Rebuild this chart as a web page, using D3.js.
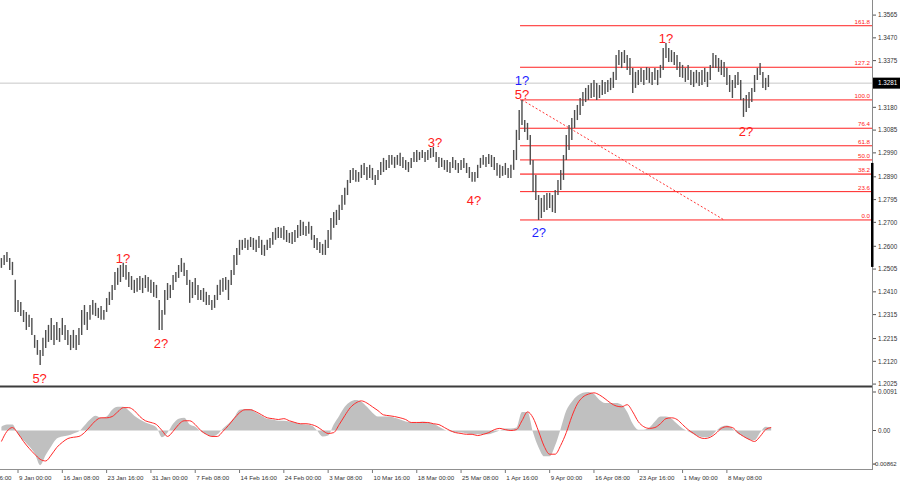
<!DOCTYPE html>
<html><head><meta charset="utf-8">
<script src="https://cdn.jsdelivr.net/npm/d3@7/dist/d3.min.js"></script>
<style>body{margin:0;background:#fff}svg{display:block}text{font-family:"Liberation Sans",Arial,sans-serif}</style>
</head><body><svg id="c" width="900" height="485"></svg>
<script>
// ---- data (8-hour bars) ----
const highs = [
1.2551,1.2564,1.2576,1.2551,1.2535,1.2460,1.2376,1.2368,1.2334,1.2326,
1.2314,1.2301,1.2230,1.2209,1.2167,1.2218,1.2251,1.2272,1.2301,1.2272,
1.2284,1.2259,1.2301,1.2272,1.2251,1.2230,1.2251,1.2230,1.2259,1.2334,
1.2355,1.2326,1.2355,1.2376,1.2364,1.2343,1.2351,1.2334,1.2384,1.2410,
1.2439,1.2493,1.2510,1.2522,1.2531,1.2522,1.2493,1.2476,1.2460,1.2468,
1.2476,1.2468,1.2480,1.2472,1.2460,1.2451,1.2439,1.2376,1.2334,1.2418,
1.2447,1.2439,1.2480,1.2493,1.2522,1.2551,1.2531,1.2501,1.2460,1.2451,
1.2468,1.2439,1.2418,1.2426,1.2410,1.2397,1.2376,1.2397,1.2439,1.2460,
1.2468,1.2472,1.2460,1.2501,1.2564,1.2593,1.2627,1.2627,1.2635,1.2627,
1.2639,1.2635,1.2627,1.2643,1.2627,1.2606,1.2627,1.2635,1.2660,1.2677,
1.2681,1.2677,1.2685,1.2668,1.2656,1.2660,1.2668,1.2689,1.2710,1.2702,
1.2685,1.2702,1.2685,1.2647,1.2635,1.2618,1.2610,1.2627,1.2668,1.2718,
1.2743,1.2752,1.2773,1.2814,1.2844,1.2877,1.2919,1.2927,1.2919,1.2910,
1.2940,1.2948,1.2931,1.2940,1.2927,1.2898,1.2919,1.2952,1.2969,1.2960,
1.2981,1.2981,1.2973,1.2981,1.2990,1.2973,1.2960,1.2952,1.2969,1.2994,
1.3002,1.2994,1.3002,1.2994,1.3002,1.3010,1.3015,1.2994,1.2973,1.2969,
1.2960,1.2960,1.2952,1.2973,1.2960,1.2948,1.2960,1.2969,1.2948,1.2931,
1.2910,1.2910,1.2940,1.2969,1.2981,1.2973,1.2985,1.2981,1.2973,1.2948,
1.2940,1.2935,1.2948,1.2927,1.2940,1.3002,1.3086,1.3169,1.3211,1.3127,
1.3115,1.3065,1.2960,1.2898,1.2814,1.2802,1.2814,1.2823,1.2823,1.2814,
1.2835,1.2877,1.2919,1.2981,1.3065,1.3106,1.3136,1.3169,1.3190,1.3219,
1.3244,1.3261,1.3273,1.3282,1.3294,1.3282,1.3273,1.3294,1.3286,1.3294,
1.3303,1.3328,1.3398,1.3419,1.3411,1.3419,1.3398,1.3386,1.3344,1.3328,
1.3336,1.3344,1.3336,1.3348,1.3344,1.3328,1.3344,1.3336,1.3357,1.3428,
1.3449,1.3428,1.3419,1.3411,1.3398,1.3369,1.3357,1.3344,1.3357,1.3336,
1.3328,1.3336,1.3328,1.3336,1.3344,1.3328,1.3357,1.3407,1.3398,1.3386,
1.3378,1.3369,1.3344,1.3315,1.3294,1.3315,1.3328,1.3294,1.3219,1.3232,
1.3244,1.3261,1.3315,1.3344,1.3365,1.3328,1.3303,1.3315];
const lows = [
1.2510,1.2522,1.2535,1.2501,1.2480,1.2326,1.2326,1.2309,1.2284,1.2251,
1.2263,1.2230,1.2176,1.2147,1.2105,1.2142,1.2176,1.2201,1.2209,1.2188,
1.2209,1.2201,1.2230,1.2209,1.2188,1.2167,1.2176,1.2167,1.2188,1.2230,
1.2272,1.2251,1.2293,1.2314,1.2309,1.2301,1.2293,1.2293,1.2326,1.2355,
1.2376,1.2418,1.2439,1.2451,1.2472,1.2460,1.2430,1.2418,1.2405,1.2410,
1.2418,1.2405,1.2426,1.2410,1.2405,1.2389,1.2384,1.2251,1.2251,1.2314,
1.2376,1.2384,1.2418,1.2451,1.2468,1.2493,1.2476,1.2439,1.2364,1.2384,
1.2397,1.2376,1.2376,1.2368,1.2355,1.2355,1.2334,1.2343,1.2376,1.2397,
1.2410,1.2418,1.2376,1.2439,1.2480,1.2522,1.2564,1.2585,1.2593,1.2585,
1.2597,1.2585,1.2576,1.2593,1.2564,1.2560,1.2585,1.2593,1.2606,1.2627,
1.2635,1.2635,1.2627,1.2618,1.2614,1.2610,1.2618,1.2635,1.2643,1.2647,
1.2643,1.2652,1.2627,1.2593,1.2585,1.2572,1.2564,1.2564,1.2593,1.2627,
1.2677,1.2689,1.2710,1.2752,1.2773,1.2814,1.2864,1.2877,1.2869,1.2869,
1.2885,1.2898,1.2877,1.2885,1.2877,1.2856,1.2877,1.2898,1.2910,1.2919,
1.2927,1.2940,1.2927,1.2940,1.2935,1.2927,1.2919,1.2910,1.2927,1.2952,
1.2952,1.2960,1.2969,1.2952,1.2960,1.2969,1.2973,1.2952,1.2927,1.2931,
1.2919,1.2910,1.2906,1.2927,1.2919,1.2906,1.2919,1.2927,1.2906,1.2885,
1.2869,1.2869,1.2885,1.2927,1.2940,1.2931,1.2944,1.2931,1.2919,1.2894,
1.2885,1.2894,1.2898,1.2885,1.2885,1.2919,1.2960,1.3044,1.3106,1.3077,
1.3044,1.2940,1.2827,1.2793,1.2710,1.2718,1.2743,1.2752,1.2760,1.2743,
1.2739,1.2814,1.2835,1.2877,1.2960,1.3002,1.3044,1.3094,1.3127,1.3148,
1.3186,1.3202,1.3211,1.3219,1.3223,1.3211,1.3219,1.3232,1.3236,1.3244,
1.3252,1.3261,1.3294,1.3357,1.3344,1.3365,1.3336,1.3315,1.3240,1.3261,
1.3273,1.3286,1.3273,1.3294,1.3282,1.3273,1.3294,1.3273,1.3303,1.3336,
1.3386,1.3369,1.3369,1.3357,1.3336,1.3307,1.3303,1.3286,1.3294,1.3273,
1.3265,1.3282,1.3269,1.3273,1.3286,1.3265,1.3294,1.3344,1.3344,1.3328,
1.3315,1.3307,1.3273,1.3244,1.3219,1.3261,1.3273,1.3211,1.3140,1.3161,
1.3177,1.3202,1.3244,1.3294,1.3315,1.3261,1.3252,1.3265];

// MACD, one value every 2 bars
const macdStep = 2;
const macdMain = [
0.0009,0.0014,0.0014,-0.0009,-0.0023,-0.0037,-0.0054,-0.0082,-0.0058,-0.0037,
-0.0019,-0.0014,-0.0012,-0.0007,-0.0002,0.0012,0.0026,0.0035,0.0030,0.0033,
0.0049,0.0056,0.0056,0.0047,0.0035,0.0026,0.0019,0.0014,0.0007,-0.0016,
-0.0005,0.0016,0.0028,0.0030,0.0014,0.0009,-0.0002,-0.0009,-0.0014,-0.0009,
0.0005,0.0016,0.0030,0.0049,0.0051,0.0051,0.0042,0.0035,0.0028,0.0026,
0.0023,0.0023,0.0021,0.0019,0.0016,0.0014,0.0012,0,-0.0014,-0.0012,
0.0014,0.0035,0.0056,0.0068,0.0072,0.0068,0.0056,0.0042,0.0033,0.0033,
0.0033,0.0030,0.0026,0.0021,0.0019,0.0019,0.0021,0.0019,0.0016,0.0009,
0.0002,-0.0002,-0.0005,-0.0005,-0.0007,-0.0009,-0.0009,-0.0009,-0.0009,-0.0005,
0,0.0005,0.0005,0.0007,0.0044,0.0044,-0.0005,-0.0040,-0.0061,-0.0061,
-0.0035,0.0005,0.0047,0.0068,0.0082,0.0089,0.0091,0.0086,0.0072,0.0065,
0.0065,0.0065,0.0061,0.0044,0.0016,0.0002,0.0002,0.0007,0.0021,0.0033,
0.0033,0.0028,0.0016,0.0005,-0.0002,-0.0009,-0.0014,-0.0016,-0.0014,-0.0002,
0.0009,0.0012,0.0005,-0.0007,-0.0014,-0.0021,-0.0023,-0.0005,0.0009,0.0007];
const macdSignal = [
-0.0026,-0.0002,0.0007,-0.0007,-0.0026,-0.0042,-0.0056,-0.0068,-0.0072,-0.0058,
-0.0040,-0.0028,-0.0019,-0.0016,-0.0014,-0.0005,0.0009,0.0023,0.0030,0.0030,
0.0033,0.0044,0.0054,0.0054,0.0047,0.0033,0.0023,0.0019,0.0014,0,
-0.0014,-0.0002,0.0014,0.0023,0.0023,0.0014,0,-0.0009,-0.0014,-0.0014,
-0.0002,0.0012,0.0028,0.0042,0.0049,0.0049,0.0044,0.0037,0.0030,0.0028,
0.0026,0.0028,0.0023,0.0019,0.0016,0.0016,0.0014,0.0009,0,-0.0007,
-0.0005,0.0014,0.0035,0.0054,0.0065,0.0070,0.0065,0.0056,0.0047,0.0037,
0.0035,0.0033,0.0030,0.0026,0.0019,0.0019,0.0019,0.0019,0.0016,0.0014,
0.0007,0,-0.0005,-0.0007,-0.0009,-0.0009,-0.0012,-0.0009,-0.0005,0.0002,
0.0005,0.0002,0,0.0002,0.0023,0.0044,0.0030,-0.0002,-0.0037,-0.0056,
-0.0056,-0.0035,-0.0005,0.0033,0.0063,0.0079,0.0086,0.0089,0.0084,0.0075,
0.0065,0.0058,0.0056,0.0061,0.0044,0.0021,0.0009,0.0005,0.0007,0.0016,
0.0028,0.0030,0.0026,0.0014,0.0002,-0.0007,-0.0016,-0.0019,-0.0016,-0.0007,
0.0005,0.0009,0.0007,-0.0005,-0.0014,-0.0021,-0.0026,-0.0014,0.0002,0.0007];

const priceTicks = [1.3565,1.3470,1.3375,1.3180,1.3085,1.2990,1.2890,1.2795,1.2700,1.2600,1.2505,1.2410,1.2315,1.2215,1.2120,1.2025];
const lastPrice = 1.3281;
const macdTicks = [0.0091, 0, -0.00862];
const macdTickLabels = ["0.0091", "0.00", "-0.00862"];

const dateLabels = ["31 Dec 16:00","9 Jan 00:00","16 Jan 08:00","23 Jan 16:00","31 Jan 00:00","7 Feb 08:00","14 Feb 16:00","24 Feb 00:00","3 Mar 08:00","10 Mar 16:00","18 Mar 00:00","25 Mar 08:00","1 Apr 16:00","9 Apr 00:00","16 Apr 08:00","23 Apr 16:00","1 May 00:00","8 May 08:00"];
const dateBars = [-10,6,22,38,54,70,86,102,118,134,150,166,182,198,214,230,246,262];

// Fibonacci retracement
const fibLevels = [0.0,23.6,38.2,50.0,61.8,76.4,100.0,127.2,161.8];
const fibLow = 1.2710, fibHigh = 1.3211;
const fibStartBar = 187.3;
const trendStart = {bar: 188, price: 1.3211};
const trendEnd = {bar: 261, price: 1.2710};

// wave labels
const waveText  = ["5?","1?","2?","3?","4?","1?","5?","2?","1?","2?"];
const waveBar   = [13.8,43.9,57.6,156.6,170.7,188,188,194.1,240,268.9];
const wavePrice = [1.2030,1.2531,1.2176,1.3015,1.2773,1.3273,1.3215,1.2639,1.3449,1.3060];
const waveColor = ["r","r","r","r","r","b","r","b","r","r"];

// ---- drawing ----
const svg = d3.select("#c");
const W = 900, axisX = 872;
const x = d3.scaleLinear().domain([0, 277]).range([1.4, 1.4 + 277 * 2.769]);
const y = d3.scaleLinear().domain([1.2017, 1.3628]).range([386, 0]);
const ym = d3.scaleLinear().domain([-0.0091, 0.0091]).range([469, 392]);
const RED = "#ff2020", BLUE = "#1f1fff";

svg.append("rect").attr("width", W).attr("height", 485).attr("fill", "#fff");

const defs = svg.append("defs");
defs.append("clipPath").attr("id", "cpMain").append("rect").attr("x", 0).attr("y", 0).attr("width", axisX).attr("height", 385);
defs.append("clipPath").attr("id", "cpMacd").append("rect").attr("x", 0).attr("y", 388).attr("width", axisX).attr("height", 81);

const main = svg.append("g").attr("clip-path", "url(#cpMain)");

// current price line
main.append("line").attr("x1", 0).attr("x2", axisX).attr("y1", y(lastPrice)).attr("y2", y(lastPrice))
  .attr("stroke", "#c8c8c8").attr("stroke-width", 1);

// fib lines
fibLevels.forEach(l => {
  const p = fibLow + (fibHigh - fibLow) * l / 100;
  main.append("line").attr("x1", x(fibStartBar)).attr("x2", axisX).attr("y1", y(p)).attr("y2", y(p))
    .attr("stroke", l === 38.2 ? "#ff6a6a" : RED).attr("stroke-width", l === 38.2 ? 1.6 : 1);
  main.append("text").attr("x", axisX - 2).attr("y", y(p) - 1.8).attr("text-anchor", "end")
    .attr("font-size", 6.2).attr("fill", RED).text(l.toFixed(1));
});

// dashed trend line
main.append("line").attr("x1", x(trendStart.bar)).attr("y1", y(trendStart.price))
  .attr("x2", x(trendEnd.bar)).attr("y2", y(trendEnd.price))
  .attr("stroke", RED).attr("stroke-width", 0.9).attr("stroke-dasharray", "2,2");

// bars
main.append("g").selectAll("line").data(highs).join("line")
  .attr("x1", (d, i) => x(i)).attr("x2", (d, i) => x(i))
  .attr("y1", d => y(d)).attr("y2", (d, i) => y(lows[i]))
  .attr("stroke", "#4e4e4e").attr("stroke-width", 1.4);

// wave labels
svg.append("g").selectAll("text").data(waveText).join("text")
  .attr("x", (d, i) => x(waveBar[i])).attr("y", (d, i) => y(wavePrice[i]))
  .attr("text-anchor", "middle").attr("font-size", 13)
  .attr("fill", (d, i) => waveColor[i] === "b" ? BLUE : RED).text(d => d);

// pane separators and axis
svg.append("rect").attr("x", 0).attr("y", 385.5).attr("width", axisX).attr("height", 2).attr("fill", "#3c3c3c");
svg.append("line").attr("x1", 0).attr("x2", axisX).attr("y1", 469.5).attr("y2", 469.5).attr("stroke", "#909090");
svg.append("line").attr("x1", axisX + 0.5).attr("x2", axisX + 0.5).attr("y1", 0).attr("y2", 470).attr("stroke", "#8a8a8a");
svg.append("rect").attr("x", axisX - 1).attr("y", y(1.2948)).attr("width", 2.5).attr("height", y(1.2514) - y(1.2948)).attr("fill", "#000");

// price axis
const pa = svg.append("g");
priceTicks.forEach(t => {
  pa.append("line").attr("x1", axisX + 1).attr("x2", axisX + 4).attr("y1", y(t)).attr("y2", y(t)).attr("stroke", "#555");
  pa.append("text").attr("x", axisX + 6).attr("y", y(t) + 2.2).attr("font-size", 6.3).attr("fill", "#333").text(t.toFixed(4));
});
pa.append("rect").attr("x", axisX + 1).attr("y", y(lastPrice) - 5.5).attr("width", W - axisX - 1).attr("height", 11).attr("fill", "#000");
pa.append("text").attr("x", axisX + 6).attr("y", y(lastPrice) + 2.3).attr("font-size", 6.3).attr("fill", "#fff").text(lastPrice.toFixed(4));

// MACD
const mg = svg.append("g").attr("clip-path", "url(#cpMacd)");
const idx = macdMain.map((d, k) => k * macdStep);
mg.append("path").datum(macdMain)
  .attr("d", d3.area().x((d, k) => x(idx[k])).y0(ym(0)).y1(d => ym(d)).curve(d3.curveMonotoneX))
  .attr("fill", "#c0c0c0");
mg.append("path").datum(macdSignal)
  .attr("d", d3.line().x((d, k) => x(idx[k])).y(d => ym(d)).curve(d3.curveMonotoneX))
  .attr("fill", "none").attr("stroke", "#ff2a2a").attr("stroke-width", 1);

macdTicks.forEach((t, i) => {
  const yy = i === 2 ? ym(t) - 3 : ym(t);
  svg.append("line").attr("x1", axisX + 1).attr("x2", axisX + 4).attr("y1", yy).attr("y2", yy).attr("stroke", "#555");
  svg.append("text").attr("x", i === 2 ? axisX + 1 : axisX + 6).attr("y", yy + 2.2).attr("font-size", i === 2 ? 6 : 6.3).attr("fill", "#333").text(macdTickLabels[i]);
});

// date axis
dateLabels.forEach((l, i) => {
  const xx = x(dateBars[i]);
  svg.append("line").attr("x1", xx).attr("x2", xx).attr("y1", 470).attr("y2", 473).attr("stroke", "#777");
  svg.append("text").attr("x", xx + 1).attr("y", 480).attr("font-size", 6.2).attr("fill", "#333").text(l);
});
</script></body></html>
